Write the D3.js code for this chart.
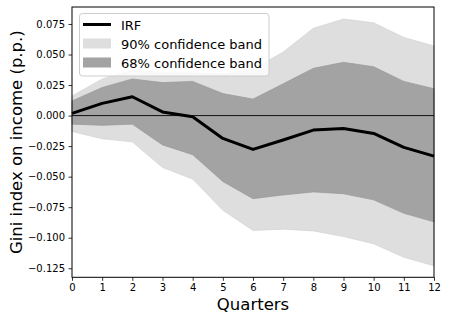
<!DOCTYPE html>
<html>
<head>
<meta charset="utf-8">
<script src="https://cdn.jsdelivr.net/npm/d3@7"></script>
<style>
  body { margin: 0; background: #fff; }
  text { font-family: "DejaVu Sans", sans-serif; }
</style>
</head>
<body>
<script>
// quarters after the shock
var quarters = [0, 1, 2, 3, 4, 5, 6, 7, 8, 9, 10, 11, 12];
var irf    = [0.0018, 0.010, 0.0154, 0.003, -0.001, -0.0187, -0.0277, -0.020, -0.0119, -0.0105, -0.0146, -0.026, -0.0332];
var up90   = [0.016, 0.030, 0.037, 0.035, 0.035, 0.034, 0.038, 0.052, 0.0715, 0.079, 0.076, 0.064, 0.057];
var lo90   = [-0.013, -0.019, -0.0215, -0.0425, -0.052, -0.0775, -0.094, -0.093, -0.0944, -0.099, -0.105, -0.116, -0.123];
var up68   = [0.012, 0.023, 0.030, 0.027, 0.028, 0.018, 0.0135, 0.026, 0.0387, 0.0436, 0.040, 0.028, 0.022];
var lo68   = [-0.007, -0.008, -0.007, -0.024, -0.032, -0.054, -0.068, -0.065, -0.0625, -0.064, -0.069, -0.080, -0.087];
var yTicks = [-0.125, -0.100, -0.075, -0.050, -0.025, 0.000, 0.025, 0.050, 0.075];
var legendLabels = ["IRF", "90% confidence band", "68% confidence band"];

var w = 449, h = 322;
var margin = { top: 7, right: 15, bottom: 44.7, left: 72 };

var svg = d3.select("body").append("svg")
  .attr("width", w)
  .attr("height", h);

var x = d3.scaleLinear().domain([0, 12]).range([margin.left, w - margin.right]);
var y = d3.scaleLinear().domain([-0.1324, 0.0889]).range([h - margin.bottom, margin.top]);

var rows = quarters.map(function (q, i) {
  return { q: q, irf: irf[i], u90: up90[i], l90: lo90[i], u68: up68[i], l68: lo68[i] };
});

// bands
var band = function (lo, hi) {
  return d3.area()
    .x(function (d) { return x(d.q); })
    .y0(function (d) { return y(d[lo]); })
    .y1(function (d) { return y(d[hi]); });
};

svg.append("path")
  .datum(rows)
  .attr("d", band("l90", "u90"))
  .attr("fill", "#dedede")
  .attr("stroke", "#d2d2d2")
  .attr("stroke-width", 0.7);

svg.append("path")
  .datum(rows)
  .attr("d", band("l68", "u68"))
  .attr("fill", "#a3a3a3")
  .attr("stroke", "#999")
  .attr("stroke-width", 0.7);

// zero line
svg.append("line")
  .attr("x1", x(0)).attr("x2", x(12))
  .attr("y1", y(0)).attr("y2", y(0))
  .attr("stroke", "#111")
  .attr("stroke-width", 1);

// IRF
svg.append("path")
  .datum(rows)
  .attr("d", d3.line()
    .x(function (d) { return x(d.q); })
    .y(function (d) { return y(d.irf); }))
  .attr("fill", "none")
  .attr("stroke", "#000")
  .attr("stroke-width", 3)
  .attr("stroke-linejoin", "round");

// axes
var fmt = function (d) { return d3.format(".3f")(d).replace("-", "\u2212"); };

var xAxis = svg.append("g")
  .attr("transform", "translate(0," + (h - margin.bottom) + ")")
  .call(d3.axisBottom(x).tickValues(quarters).tickSize(3.5).tickPadding(3.5).tickFormat(d3.format("d")));

var yAxis = svg.append("g")
  .attr("transform", "translate(" + margin.left + ",0)")
  .call(d3.axisLeft(y).tickValues(yTicks).tickSize(3.5).tickPadding(3.5).tickFormat(fmt));

[xAxis, yAxis].forEach(function (g) {
  g.select(".domain").remove();
  g.selectAll("line").attr("stroke", "#000").attr("stroke-width", 0.8);
  g.selectAll("text").attr("font-family", "DejaVu Sans").attr("font-size", "10px").attr("fill", "#000");
});

// frame
svg.append("rect")
  .attr("x", margin.left)
  .attr("y", margin.top)
  .attr("width", w - margin.left - margin.right)
  .attr("height", h - margin.top - margin.bottom)
  .attr("fill", "none")
  .attr("stroke", "#000")
  .attr("stroke-width", 1);

// axis labels
svg.append("text")
  .attr("x", (margin.left + w - margin.right) / 2)
  .attr("y", 310)
  .attr("text-anchor", "middle")
  .attr("font-size", "16.5px")
  .text("Quarters");

svg.append("text")
  .attr("transform", "translate(22," + ((margin.top + h - margin.bottom) / 2) + ") rotate(-90)")
  .attr("text-anchor", "middle")
  .attr("font-size", "16.5px")
  .text("Gini index on income (p.p.)");

// legend
var lg = svg.append("g").attr("transform", "translate(79.5,13.5)");

lg.append("rect")
  .attr("width", 189.5)
  .attr("height", 62.5)
  .attr("rx", 3)
  .attr("fill", "#fff")
  .attr("fill-opacity", 0.8)
  .attr("stroke", "#ccc")
  .attr("stroke-width", 1);

var rowY = [11, 30, 49];

lg.append("line")
  .attr("x1", 3.5).attr("x2", 31.5)
  .attr("y1", rowY[0]).attr("y2", rowY[0])
  .attr("stroke", "#000")
  .attr("stroke-width", 3);

lg.append("rect")
  .attr("x", 3.5).attr("y", rowY[1] - 5)
  .attr("width", 28).attr("height", 10)
  .attr("fill", "#dedede");

lg.append("rect")
  .attr("x", 3.5).attr("y", rowY[2] - 5)
  .attr("width", 28).attr("height", 10)
  .attr("fill", "#a3a3a3");

lg.selectAll("text.lab")
  .data(legendLabels)
  .enter()
  .append("text")
  .attr("class", "lab")
  .attr("x", 41.5)
  .attr("y", function (d, i) { return rowY[i] + 5; })
  .attr("font-size", "13px")
  .text(function (d) { return d; });
</script>
</body>
</html>
